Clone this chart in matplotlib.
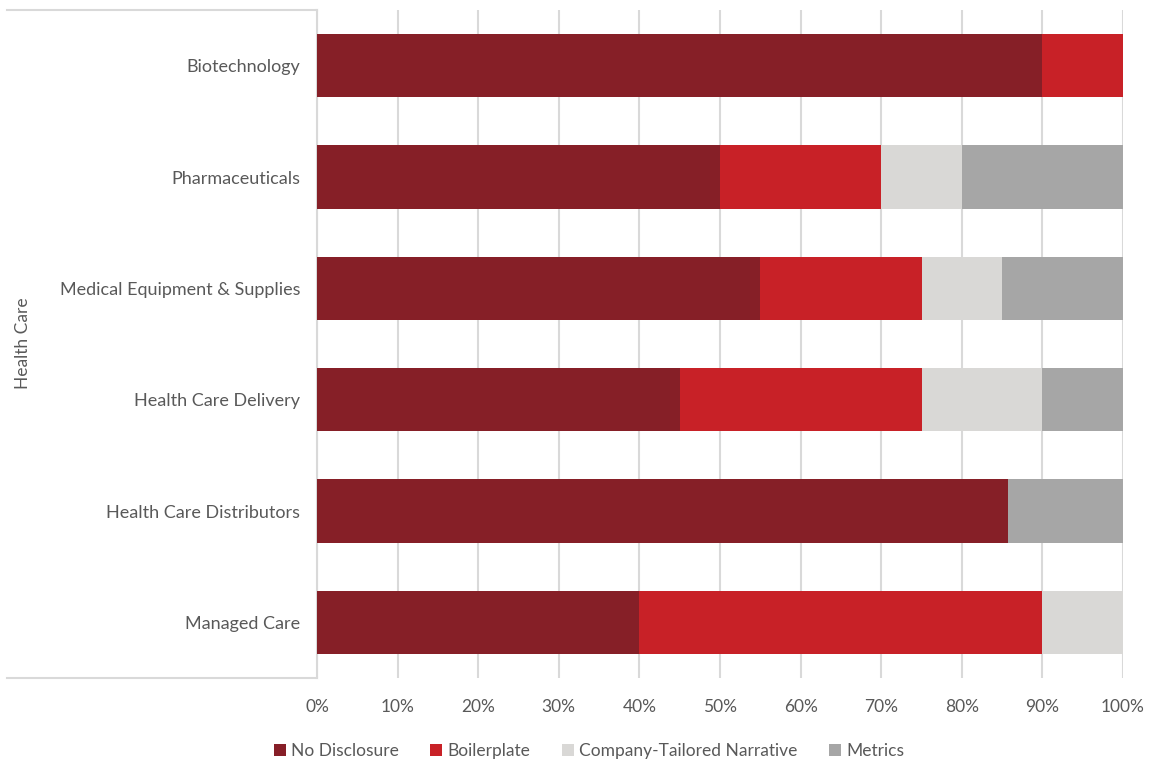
import matplotlib.pyplot as plt
from matplotlib.lines import Line2D
from matplotlib.ticker import PercentFormatter

plt.rcParams['font.family'] = ['Lato', 'DejaVu Sans']

categories = ['Biotechnology', 'Pharmaceuticals', 'Medical Equipment & Supplies',
              'Health Care Delivery', 'Health Care Distributors', 'Managed Care']
no_disclosure = [90, 50, 55, 45, 85.7, 40]
boilerplate = [10, 20, 20, 30, 0, 50]
narrative = [0, 10, 10, 15, 0, 10]
metrics = [0, 20, 15, 10, 14.3, 0]

series = [('No Disclosure', no_disclosure, '#861F27'),
          ('Boilerplate', boilerplate, '#C82127'),
          ('Company-Tailored Narrative', narrative, '#D9D8D6'),
          ('Metrics', metrics, '#A6A6A6')]

text_col = '#595959'
line_col = '#D9D9D9'

fig = plt.figure(figsize=(11.49, 7.61), dpi=100)
ax = fig.add_axes([317 / 1149, 1 - 678 / 761, 806 / 1149, 668 / 761])

y = list(range(len(categories)))[::-1]
left = [0] * len(categories)
for name, vals, col in series:
    ax.barh(y, vals, left=left, height=0.57, color=col, label=name, zorder=3)
    left = [a + b for a, b in zip(left, vals)]

ax.set_xlim(0, 100)
ax.set_ylim(-0.5, len(categories) - 0.5)
ax.set_xticks(range(0, 101, 10))
ax.xaxis.set_major_formatter(PercentFormatter(decimals=0))
ax.set_yticks(y)
ax.set_yticklabels(categories)
ax.tick_params(axis='both', length=0, colors=text_col, labelsize=12.5)
ax.tick_params(axis='y', labelsize=13)
ax.tick_params(axis='x', pad=15)
ax.tick_params(axis='y', pad=12)
ax.grid(axis='x', color=line_col, linewidth=1.5, zorder=0)

for s in ['top', 'right', 'bottom']:
    ax.spines[s].set_visible(False)
ax.spines['left'].set_color(line_col)
ax.spines['left'].set_linewidth(1.5)

# group bracket around the category labels
for yy in (1 - 10 / 761, 1 - 678 / 761):
    fig.add_artist(Line2D([7 / 1149, 317 / 1149], [yy, yy], color=line_col, lw=1.5,
                          transform=fig.transFigure))
fig.text(23 / 1149, 1 - 343 / 761, 'Health Care', rotation=90, ha='center', va='center',
         color=text_col, fontsize=12.5)

fig.legend(loc='center', bbox_to_anchor=(589 / 1149, 1 - 751 / 761), ncol=4, frameon=False,
           fontsize=12.5, labelcolor=text_col, handlelength=0.7, handleheight=0.7,
           handletextpad=0.3, columnspacing=1.8)

fig.savefig('out.png', dpi=100)
